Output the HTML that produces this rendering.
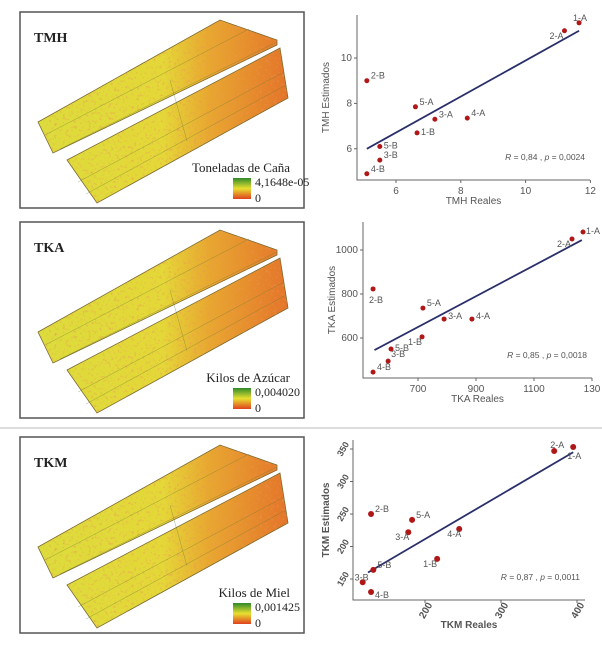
<!DOCTYPE html>
<html><head><meta charset="utf-8">
<style>
body{margin:0;background:#fff;width:602px;height:650px;overflow:hidden;font-family:"Liberation Sans",sans-serif}
svg{position:absolute;left:0;top:0}
</style></head>
<body>
<svg id="root" width="602" height="650">
<defs>
<linearGradient id="fieldGrad" gradientUnits="userSpaceOnUse" x1="18" x2="268" y1="0" y2="0">
<stop offset="0" stop-color="#dcdc3c"/><stop offset="0.5" stop-color="#e4d838"/>
<stop offset="0.68" stop-color="#e8a830"/><stop offset="1" stop-color="#e4742a"/>
</linearGradient>
<linearGradient id="legGrad" x1="0" x2="0" y1="0" y2="1">
<stop offset="0" stop-color="#2e8a2a"/><stop offset="0.5" stop-color="#e8e030"/><stop offset="1" stop-color="#e04020"/>
</linearGradient>
<filter id="speck"><feTurbulence type="fractalNoise" baseFrequency="0.35" numOctaves="2" seed="3"/>
<feColorMatrix values="0 0 0 0 0.85  0 0 0 0 0.3  0 0 0 0 0.1  0 0 0 3 -1.7"/><feComposite in2="SourceGraphic" operator="in"/></filter>
</defs>
<line x1="0" y1="428" x2="602" y2="428" stroke="#ddd" stroke-width="2"/>
</svg>
<script>
const NS="http://www.w3.org/2000/svg";
const root=document.getElementById('root');
function mk(tag,attrs,parent){const e=document.createElementNS(NS,tag);for(const k in attrs)e.setAttribute(k,attrs[k]);(parent||root).appendChild(e);return e;}

// ---- map panels ----
const mapTitles=["TMH","TKA","TKM"];
const legendTitles=["Toneladas de Caña","Kilos de Azúcar","Kilos de Miel"];
const legendMax=["4,1648e-05","0,004020","0,001425"];
const panelTops=[12,222,437];
for(let i=0;i<3;i++){
  const g=mk('g',{transform:`translate(20,${panelTops[i]})`});
  
  
  const box=mk('rect',{x:0,y:0,width:284,height:196,fill:'#fff',stroke:'#555','stroke-width':1.5},g);
  
  const up="18,110 200,8 257,28 257,33 33,141", lo="47,148 260,36 268,86 77,191";
  [up,lo].forEach((p,j)=>{
    const s=mk('polygon',{points:p,fill:'url(#fieldGrad)',stroke:'#7a6a30','stroke-width':0.8},g);
    
    
    const n=mk('polygon',{points:p,fill:'#fff',filter:'url(#speck)',opacity:0.7},g);
    
  });
  [[25,123,229,17],[40,137,257,30],[58,170,264,60],[66,182,266,73],[150,68,167,129]].forEach(l=>{
    const r=mk('line',{x1:l[0],y1:l[1],x2:l[2],y2:l[3],stroke:'#6a7a30','stroke-width':0.5,opacity:0.6},g);
    
  });
  const t=mk('text',{x:14,y:30,'font-family':'Liberation Serif','font-weight':'bold','font-size':14,fill:'#222'},g);
  t.textContent=mapTitles[i];
  const lt=mk('text',{x:270,y:160,'text-anchor':'end','font-family':'Liberation Serif','font-size':13,fill:'#222'},g);
  lt.textContent=legendTitles[i];
  const lb=mk('rect',{x:213,y:166,width:18,height:21,fill:'url(#legGrad)'},g);
  
  const l1=mk('text',{x:235,y:174,'font-family':'Liberation Serif','font-size':12,fill:'#222'},g);
  l1.textContent=legendMax[i];
  const l0=mk('text',{x:235,y:190,'font-family':'Liberation Serif','font-size':12,fill:'#222'},g);
  l0.textContent='0';
}

// ---- scatter data ----
const pointLabels=["1-A","2-A","2-B","5-A","3-A","4-A","1-B","5-B","3-B","4-B"];
const tmhReal=[11.65,11.2,5.1,6.6,7.2,8.2,6.65,5.5,5.5,5.1];
const tmhEst=[11.55,11.2,9.0,7.85,7.3,7.35,6.7,6.1,5.5,4.9];
const tmhXTicks=[6,8,10,12];
const tmhYTicks=[6,8,10];
const tmhFit=[[5.1,6.0],[11.65,11.2]];
const tkaReal=[1269,1231,545,717,790,886,714,607,597,545];
const tkaEst=[1082,1050,823,736,686,686,605,550,495,445];
const tkaXTicks=[700,900,1100,1300];
const tkaXTickLabels=["700","900","1100","130"];
const tkaYTicks=[600,800,1000];
const tkaYTickLabels=["600","800","1000"];
const tkmReal=[395,370,129,183,178,245,216,132,118,129];
const tkmEst=[353,347,250,241,222,227,181,164,145,130];
const tkmXTicks=[200,300,400];
const tkmYTicks=[150,200,250,300,350];
const tkmFit=[[125,160],[395,345]];
const tkaFit=[[550,545],[1265,1045]];

function scatter(cfg){
  const g=mk('g',{});
  
  const sx=v=>cfg.x0+(v-cfg.xv0)*cfg.kx, sy=v=>cfg.y0-(v-cfg.yv0)*cfg.ky;
  const ax=mk('path',{d:`M${cfg.left},${cfg.top}V${cfg.bottom}H${cfg.right}`,fill:'none',stroke:'#666','stroke-width':1},g);
  
  cfg.xt.forEach((v,k)=>{
    const x=sx(v);
    const tk=mk('line',{x1:x,y1:cfg.bottom,x2:x,y2:cfg.bottom+3,stroke:'#666'},g);
    
    const t=mk('text',{x:x,y:cfg.bottom+14,'text-anchor':'middle','font-size':10,fill:'#555'},g);
    if(cfg.rot){t.setAttribute('transform',`rotate(-60 ${x} ${cfg.bottom+10})`);t.setAttribute('font-weight','bold');}
    t.textContent=cfg.xl?cfg.xl[k]:v;
  });
  cfg.yt.forEach((v,k)=>{
    const y=sy(v);
    const tk=mk('line',{x1:cfg.left-3,y1:y,x2:cfg.left,y2:y,stroke:'#666'},g);
    
    const t=mk('text',{x:cfg.left-5,y:y+3,'text-anchor':'end','font-size':cfg.rot?9:10,fill:'#555'},g);
    if(cfg.rot){t.setAttribute('transform',`rotate(-60 ${cfg.left-10} ${y})`);t.setAttribute('font-weight','bold');t.setAttribute('text-anchor','middle');t.setAttribute('x',cfg.left-10);}
    t.textContent=cfg.yl?cfg.yl[k]:v;
  });
  const fl=mk('line',{x1:sx(cfg.fit[0][0]),y1:sy(cfg.fit[0][1]),x2:sx(cfg.fit[1][0]),y2:sy(cfg.fit[1][1]),stroke:'#2a2f6a','stroke-width':1.8},g);
  
  cfg.xs.forEach((v,k)=>{
    const c=mk('circle',{cx:sx(v),cy:sy(cfg.ys[k]),r:cfg.r||2.5,fill:'#b01818'},g);
    
    const o=(cfg.off&&cfg.off[k])||[4,-2];
    const t=mk('text',{x:sx(v)+o[0],y:sy(cfg.ys[k])+o[1],'font-size':9,fill:'#555'},g);
    t.textContent=pointLabels[k];
  });
  const xt=mk('text',{x:(cfg.left+cfg.right)/2,y:cfg.bottom+(cfg.rot?28:24),'text-anchor':'middle','font-size':10,fill:'#555','font-weight':cfg.rot?'bold':'normal'},g);
  xt.textContent=cfg.xlab;
  const yx=cfg.left-(cfg.rot?24:28), yy=(cfg.top+cfg.bottom)/2;
  const yt=mk('text',{x:yx,y:yy,'text-anchor':'middle','font-size':10,fill:'#555','font-weight':cfg.rot?'bold':'normal',transform:`rotate(-90 ${yx} ${yy})`},g);
  yt.textContent=cfg.ylab;
  const st=mk('text',{x:cfg.right-5,y:cfg.bottom-20,'text-anchor':'end','font-size':8.5,fill:'#555'},g);
  st.innerHTML=cfg.stat;
}

scatter({name:'tmh-scatter',left:357,right:590,top:15,bottom:180,x0:396,xv0:6,kx:32.4,y0:58,yv0:10,ky:22.7,
  xt:tmhXTicks,yt:tmhYTicks,xs:tmhReal,ys:tmhEst,fit:tmhFit,xlab:'TMH Reales',ylab:'TMH Estimados',
  off:[[-6,-2],[-15,8],[4,-2],[4,-2],[4,-2],[4,-2],[4,2],[4,2],[4,-2],[4,-2]],
  stat:'<tspan font-style="italic">R</tspan> = 0,84 , <tspan font-style="italic">p</tspan> = 0,0024'});
scatter({name:'tka-scatter',left:363,right:592,top:222,bottom:378,x0:418,xv0:700,kx:0.29,y0:250,yv0:1000,ky:0.22,
  xt:tkaXTicks,xl:tkaXTickLabels,yt:tkaYTicks,yl:tkaYTickLabels,xs:tkaReal,ys:tkaEst,fit:tkaFit,xlab:'TKA Reales',ylab:'TKA Estimados',
  off:[[3,2],[-15,8],[-4,14],[4,-2],[4,0],[4,0],[-14,8],[4,2],[3,-4],[4,-2]],
  stat:'<tspan font-style="italic">R</tspan> = 0,85 , <tspan font-style="italic">p</tspan> = 0,0018'});
scatter({name:'tkm-scatter',left:353,right:585,top:440,bottom:600,x0:425,xv0:200,kx:0.76,y0:579,yv0:150,ky:0.65,r:3,
  xt:tkmXTicks,yt:tkmYTicks,xs:tkmReal,ys:tkmEst,fit:tkmFit,xlab:'TKM Reales',ylab:'TKM Estimados',rot:true,
  off:[[-6,12],[-4,-3],[4,-2],[4,-2],[-13,8],[-12,8],[-14,8],[4,-2],[-8,-2],[4,6]],
  stat:'<tspan font-style="italic">R</tspan> = 0,87 , <tspan font-style="italic">p</tspan> = 0,0011'});
</script>
</body></html>
